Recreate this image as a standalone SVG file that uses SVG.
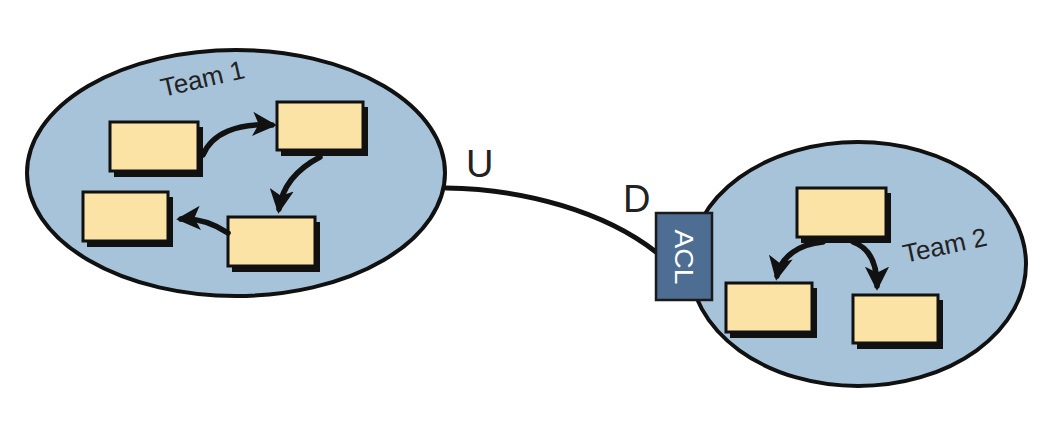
<svg xmlns="http://www.w3.org/2000/svg" width="1064" height="422" viewBox="0 0 1064 422">
<defs>
<style>
.team{fill:#a7c3da;stroke:#111;stroke-width:4}
.shadow{fill:#111}
.box{fill:#fbe3a5;stroke:#111;stroke-width:3}
.lbl{font-family:"Liberation Sans",Arial,sans-serif;fill:#222}
.arr{fill:none;stroke:#111;stroke-width:5.5;stroke-linecap:round}
.link{fill:none;stroke:#111;stroke-width:5;stroke-linecap:round}
</style>
<marker id="ah" viewBox="0 0 10 10" refX="8" refY="5" markerWidth="4.4" markerHeight="4.4" orient="auto" markerUnits="strokeWidth">
<path d="M0,0 L10,5 L0,10 L2.5,5 Z" fill="#111"/>
</marker>
</defs>
<rect width="1064" height="422" fill="#fff"/>

<g id="team1">
<ellipse class="team" cx="236" cy="173" rx="209" ry="123"/>
<text class="lbl" font-size="26" transform="translate(163,97) rotate(-13)">Team 1</text>
</g>
<g id="t1a"><rect class="shadow" x="114" y="127" width="89" height="50"/><rect class="box" x="110" y="122" width="88" height="49"/></g>
<g id="t1b"><rect class="shadow" x="281" y="107" width="87" height="49"/><rect class="box" x="277" y="102" width="86" height="48"/></g>
<g id="t1c"><rect class="shadow" x="87" y="197" width="86" height="50"/><rect class="box" x="83" y="192" width="85" height="49"/></g>
<g id="t1d"><rect class="shadow" x="232" y="222" width="88" height="50"/><rect class="box" x="228" y="217" width="87" height="49"/></g>

<g id="team2">
<ellipse class="team" cx="858" cy="264" rx="168" ry="122"/>
<text class="lbl" font-size="26" transform="translate(905,263) rotate(-12)">Team 2</text>
</g>
<g id="t2a"><rect class="shadow" x="801" y="193" width="90" height="50"/><rect class="box" x="797" y="188" width="89" height="49"/></g>
<g id="t2b"><rect class="shadow" x="730" y="288" width="87" height="50"/><rect class="box" x="726" y="283" width="86" height="49"/></g>
<g id="t2c"><rect class="shadow" x="857" y="300" width="86" height="49"/><rect class="box" x="853" y="295" width="85" height="48"/></g>

<g id="connectors">
<path class="arr" d="M203,155 C212,133 238,123 272,125" marker-end="url(#ah)"/>
<path class="arr" d="M320,157 C295,170 282,188 279,209" marker-end="url(#ah)"/>
<path class="arr" d="M228,233 C212,222 198,218 181,219" marker-end="url(#ah)"/>
<path class="arr" d="M823,242 C800,244 781,256 777,276" marker-end="url(#ah)"/>
<path class="arr" d="M853,242 C870,248 877,265 877,286" marker-end="url(#ah)"/>
<path class="link" d="M446,188 C525,189 605,212 656,252"/>
</g>

<g id="labels">
<text class="lbl" font-size="38" x="466" y="177">U</text>
<text class="lbl" font-size="38" x="623" y="212">D</text>
</g>

<g id="acl">
<rect x="656" y="213" width="56" height="87" fill="#4d6d93" stroke="#1a1a1a" stroke-width="2.5"/>
<text font-family="'Liberation Sans',Arial,sans-serif" font-size="26" fill="#fff" text-anchor="middle" transform="translate(675,257) rotate(90)" textLength="55" lengthAdjust="spacingAndGlyphs">ACL</text>
</g>
</svg>
